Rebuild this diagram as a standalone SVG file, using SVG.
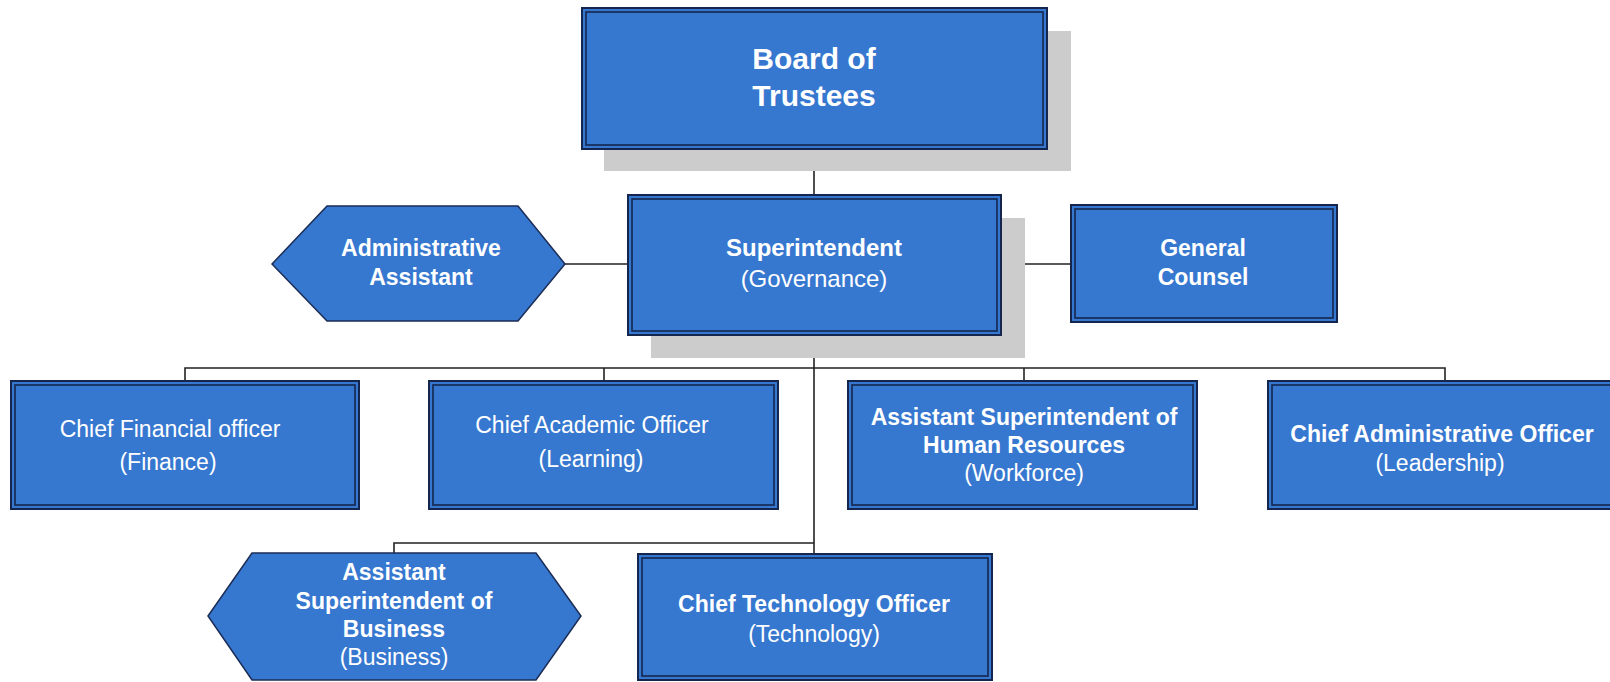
<svg xmlns="http://www.w3.org/2000/svg" width="1610" height="682" viewBox="0 0 1610 682">
<style>
.shadow{fill:#cccccc}
.box{fill:#3677d0;stroke:#14264d;stroke-width:2}
.inner{fill:none;stroke:#14264d;stroke-width:1.6}
.hex{fill:#3677d0;stroke:#1c2d55;stroke-width:1.5}
.conn{fill:none;stroke:#222;stroke-width:1.6}
text{font-family:"Liberation Sans",Arial,sans-serif;fill:#fff;text-anchor:middle;font-size:23px}
.b{font-weight:bold}
</style>
<rect width="1610" height="682" fill="#fff"/>
<g id="connectors">
<line class="conn" x1="814" y1="149" x2="814" y2="195"/>
<line class="conn" x1="565" y1="264" x2="628" y2="264"/>
<line class="conn" x1="1001" y1="264" x2="1071" y2="264"/>
<line class="conn" x1="814" y1="335" x2="814" y2="554"/>
<polyline class="conn" points="185,381 185,368 1445,368 1445,381"/>
<line class="conn" x1="604" y1="368" x2="604" y2="381"/>
<line class="conn" x1="1024" y1="368" x2="1024" y2="381"/>
<polyline class="conn" points="394,553 394,543 814,543"/>
</g>
<g id="board">
<rect class="shadow" x="604" y="31" width="467" height="140"/>
<rect class="box" x="582" y="8" width="465" height="141"/>
<rect class="inner" x="586" y="12" width="457" height="133"/>
<text class="b" x="814" y="69" style="font-size:30px">Board of</text>
<text class="b" x="814" y="106" style="font-size:30px">Trustees</text>
</g>
<g id="superintendent">
<rect class="shadow" x="651" y="218" width="374" height="140"/>
<rect class="box" x="628" y="195" width="373" height="140"/>
<rect class="inner" x="632" y="199" width="365" height="132"/>
<text class="b" x="814" y="256" style="font-size:24px">Superintendent</text>
<text x="814" y="287" style="font-size:24px">(Governance)</text>
</g>
<g id="admin-assistant">
<polygon class="hex" points="272,264 327,206 518,206 565,264 518,321 327,321"/>
<text class="b" x="421" y="256">Administrative</text>
<text class="b" x="421" y="285">Assistant</text>
</g>
<g id="general-counsel">
<rect class="box" x="1071" y="205" width="266" height="117"/>
<rect class="inner" x="1075" y="209" width="258" height="109"/>
<text class="b" x="1203" y="256">General</text>
<text class="b" x="1203" y="285">Counsel</text>
</g>
<g id="cfo">
<rect class="box" x="11" y="381" width="348" height="128"/>
<rect class="inner" x="15" y="385" width="340" height="120"/>
<text x="170" y="437">Chief Financial officer</text>
<text x="168" y="470">(Finance)</text>
</g>
<g id="chief-academic">
<rect class="box" x="429" y="381" width="349" height="128"/>
<rect class="inner" x="433" y="385" width="341" height="120"/>
<text x="592" y="433">Chief Academic Officer</text>
<text x="591" y="467">(Learning)</text>
</g>
<g id="hr">
<rect class="box" x="848" y="381" width="349" height="128"/>
<rect class="inner" x="852" y="385" width="341" height="120"/>
<text class="b" x="1024" y="425">Assistant Superintendent of</text>
<text class="b" x="1024" y="453">Human Resources</text>
<text x="1024" y="481">(Workforce)</text>
</g>
<g id="chief-admin">
<rect class="box" x="1268" y="381" width="350" height="128"/>
<rect class="inner" x="1272" y="385" width="342" height="120"/>
<text class="b" x="1442" y="442">Chief Administrative Officer</text>
<text x="1440" y="471">(Leadership)</text>
</g>
<g id="business">
<polygon class="hex" points="208,616 252,553 536,553 581,616 536,680 252,680"/>
<text class="b" x="394" y="580">Assistant</text>
<text class="b" x="394" y="609">Superintendent of</text>
<text class="b" x="394" y="637">Business</text>
<text x="394" y="665">(Business)</text>
</g>
<g id="cto">
<rect class="box" x="638" y="554" width="354" height="126"/>
<rect class="inner" x="642" y="558" width="346" height="118"/>
<text class="b" x="814" y="612">Chief Technology Officer</text>
<text x="814" y="642">(Technology)</text>
</g>
</svg>
